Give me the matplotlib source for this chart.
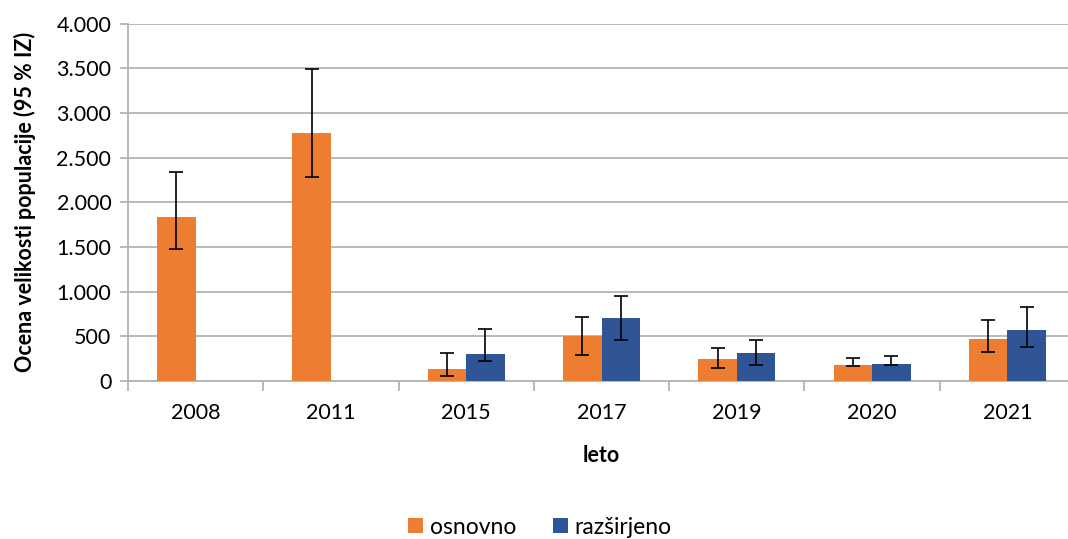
import numpy as np
import matplotlib.pyplot as plt
from matplotlib.ticker import FuncFormatter, FixedLocator

plt.rcParams['font.family'] = ['Lato', 'DejaVu Sans']

# data
leta = ['2008', '2011', '2015', '2017', '2019', '2020', '2021']
osnovno = [1834, 2777, 138, 503, 243, 178, 473]
osnovno_lo = [1477, 2285, 59, 291, 150, 170, 328]
osnovno_hi = [2338, 3490, 310, 716, 373, 262, 686]
razsirjeno = [np.nan, np.nan, 302, 701, 310, 190, 570]
razsirjeno_lo = [np.nan, np.nan, 224, 463, 179, 184, 380]
razsirjeno_hi = [np.nan, np.nan, 586, 951, 463, 280, 828]

orange = '#ED7D31'
blue = '#2F5597'
grid_c = '#B4B4B4'

fig = plt.figure(figsize=(10.68, 5.39), dpi=100)
ax = fig.add_axes([128/1068, 1-381/539, (1075-128)/1068, (381-23.5)/539])

x = np.arange(len(leta))
w = 0.285

def errs(v, lo, hi):
    v = np.array(v, float)
    return np.vstack([v - np.array(lo, float), np.array(hi, float) - v])

ekw = dict(ecolor='black', elinewidth=1.2, capsize=5, capthick=1.2)
ax.bar(x - w/2, osnovno, w, color=orange, label='osnovno',
       yerr=errs(osnovno, osnovno_lo, osnovno_hi), error_kw=ekw, zorder=3)
ax.bar(x + w/2, razsirjeno, w, color=blue, label='razširjeno',
       yerr=errs(razsirjeno, razsirjeno_lo, razsirjeno_hi), error_kw=ekw, zorder=3)

ax.set_xlim(-0.5, len(leta) - 0.5)
ax.set_ylim(0, 4000)
ax.set_yticks(np.arange(0, 4001, 500))
ax.yaxis.set_major_formatter(FuncFormatter(lambda v, p: f'{int(v):,}'.replace(',', '.')))
ax.yaxis.grid(True, color=grid_c, linewidth=1.3, zorder=0)

ax.set_xticks(x)
ax.set_xticklabels(leta)
ax.xaxis.set_minor_locator(FixedLocator(np.arange(-0.5, len(leta), 1)))
ax.tick_params(axis='x', which='major', length=0, pad=16, labelsize=15.5)
ax.tick_params(axis='x', which='minor', length=7, color=grid_c, width=1.3)
ax.tick_params(axis='y', length=6, color=grid_c, width=1.3, labelsize=15.5, pad=6)

for s in ['top', 'right']:
    ax.spines[s].set_visible(False)
for s in ['left', 'bottom']:
    ax.spines[s].set_color(grid_c)
    ax.spines[s].set_linewidth(1.3)

ax.set_xlabel('leto', fontsize=15.5, fontweight='bold', labelpad=16)
ax.set_ylabel('Ocena velikosti populacije (95 % IZ)', fontsize=15.5, fontweight='bold', labelpad=15)

fig.legend(loc='center', bbox_to_anchor=(540/1068, 1-527/539), ncol=2, frameon=False,
           fontsize=16.5, handlelength=0.65, handleheight=0.65, handletextpad=0.3, columnspacing=1.6)

fig.savefig('out.png', dpi=100)
